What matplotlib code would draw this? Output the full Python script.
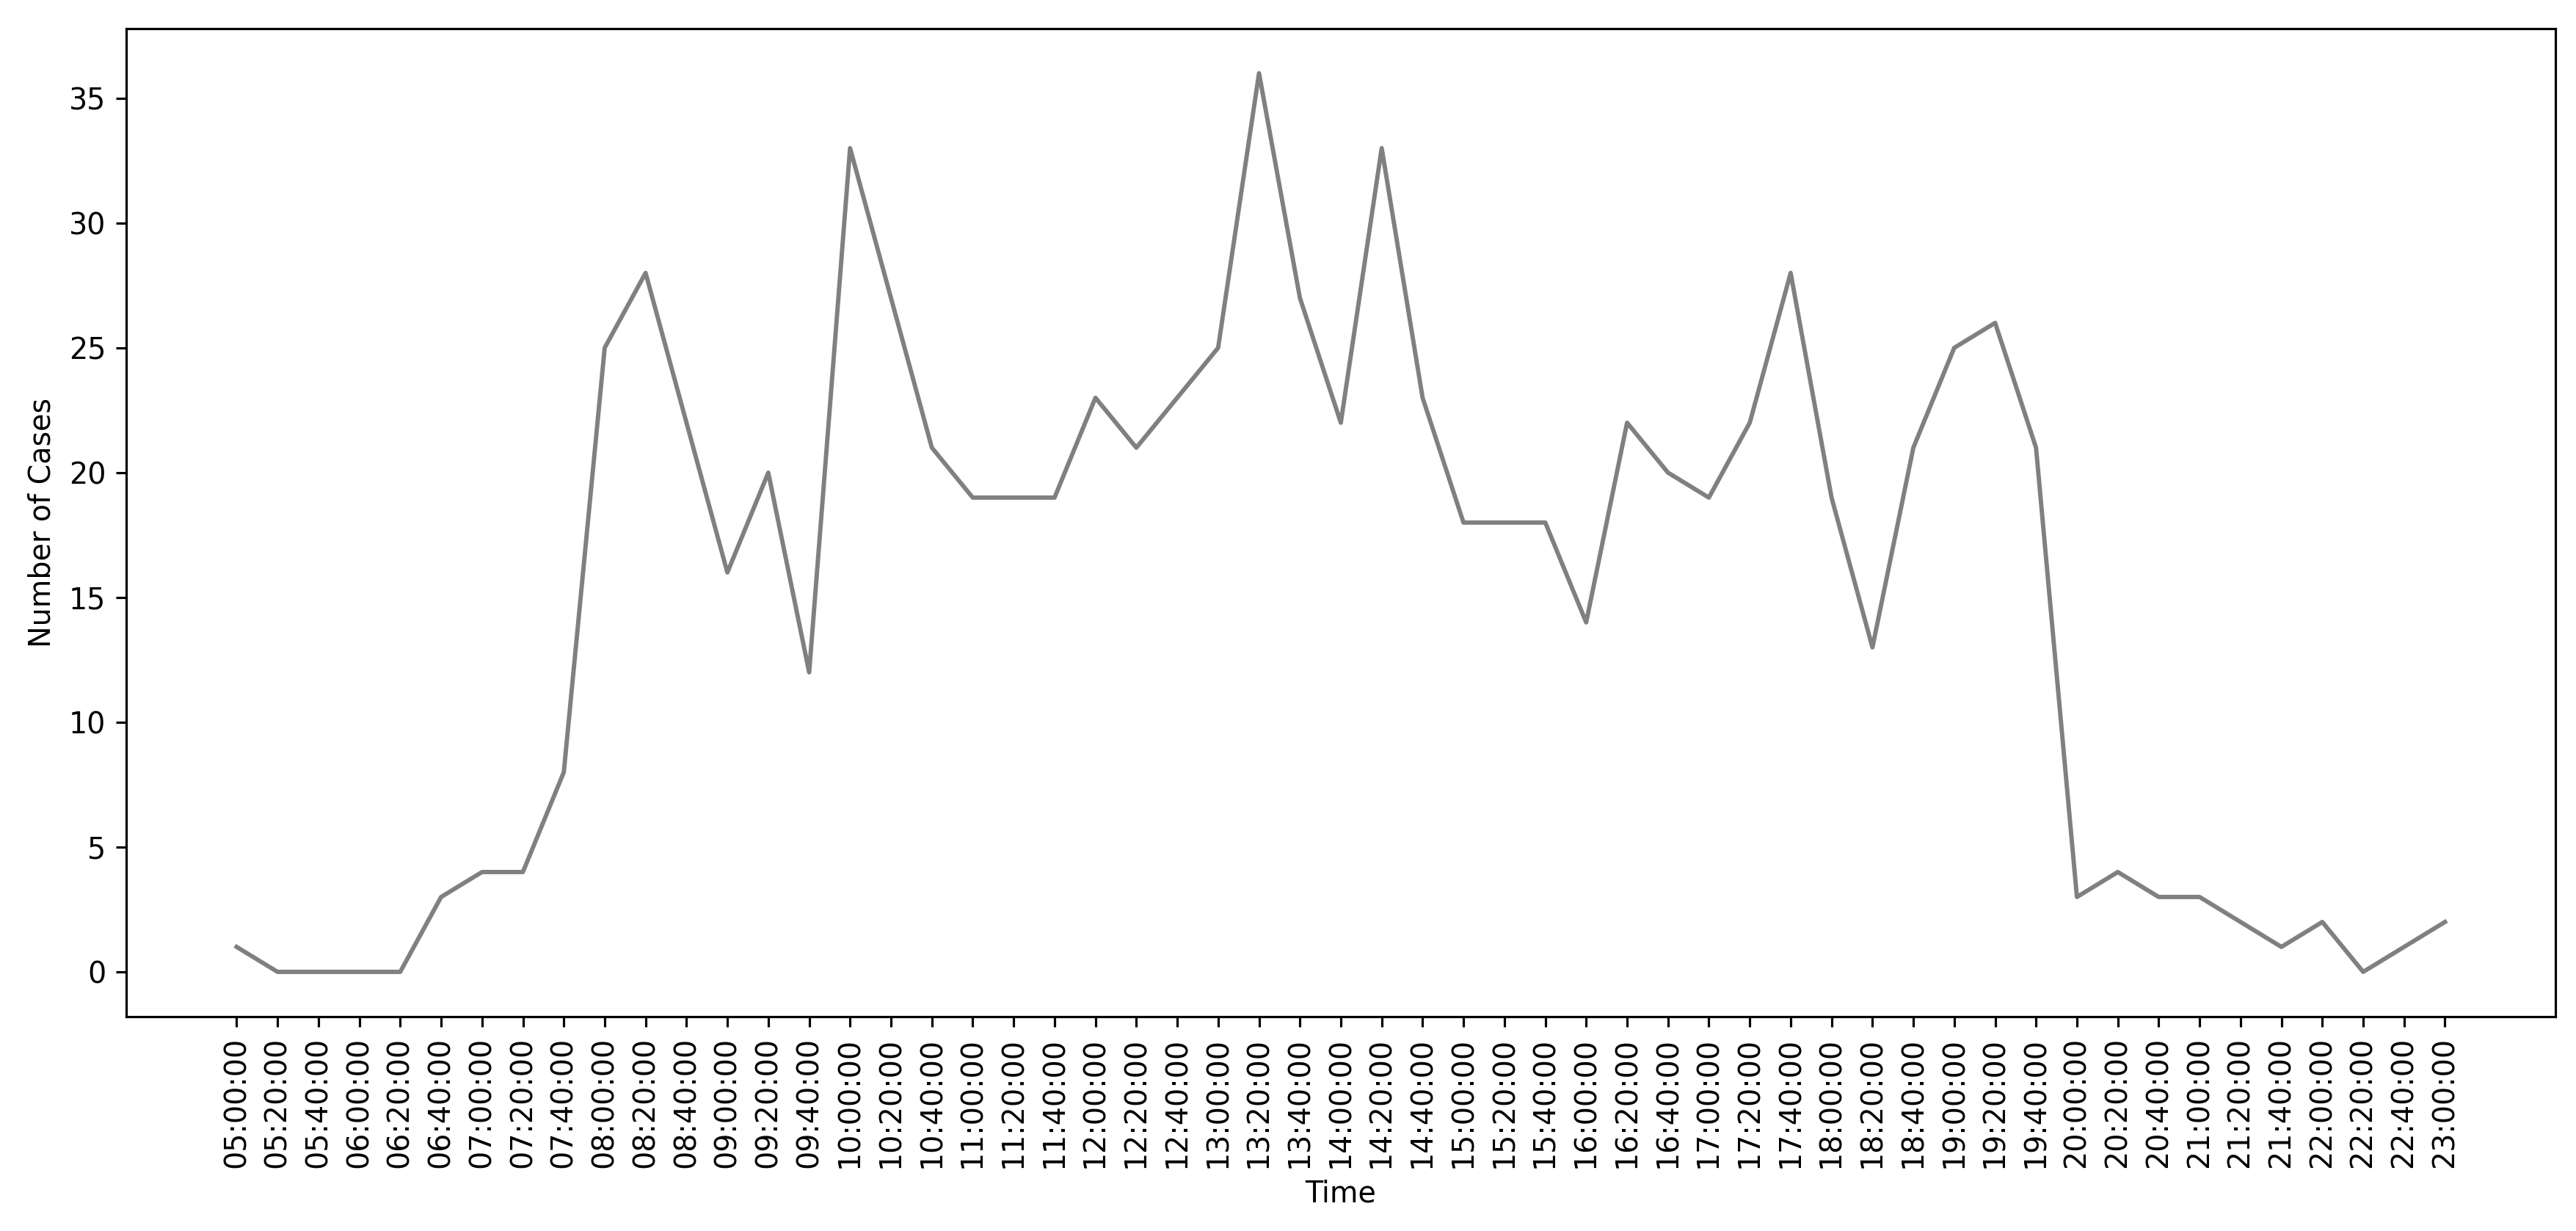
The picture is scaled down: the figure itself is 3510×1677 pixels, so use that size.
import matplotlib
matplotlib.use("Agg")
import matplotlib.pyplot as plt

# ===== данные =====
times = [
    "05:00:00", "05:20:00", "05:40:00", "06:00:00", "06:20:00", "06:40:00",
    "07:00:00", "07:20:00", "07:40:00", "08:00:00", "08:20:00", "08:40:00",
    "09:00:00", "09:20:00", "09:40:00", "10:00:00", "10:20:00", "10:40:00",
    "11:00:00", "11:20:00", "11:40:00", "12:00:00", "12:20:00", "12:40:00",
    "13:00:00", "13:20:00", "13:40:00", "14:00:00", "14:20:00", "14:40:00",
    "15:00:00", "15:20:00", "15:40:00", "16:00:00", "16:20:00", "16:40:00",
    "17:00:00", "17:20:00", "17:40:00", "18:00:00", "18:20:00", "18:40:00",
    "19:00:00", "19:20:00", "19:40:00", "20:00:00", "20:20:00", "20:40:00",
    "21:00:00", "21:20:00", "21:40:00", "22:00:00", "22:20:00", "22:40:00",
    "23:00:00",
]
cases = [
    1, 0, 0, 0, 0, 3,
    4, 4, 8, 25, 28, 22,
    16, 20, 12, 33, 27, 21,
    19, 19, 19, 23, 21, 23,
    25, 36, 27, 22, 33, 23,
    18, 18, 18, 14, 22, 20,
    19, 22, 28, 19, 13, 21,
    25, 26, 21, 3, 4, 3,
    3, 2, 1, 2, 0, 1,
    2,
]

DPI = 285
fig = plt.figure(figsize=(3510 / DPI, 1677 / DPI), dpi=DPI)
ax = fig.add_axes([0.049, 0.174, 0.943, 0.803])

ax.plot(times, cases, color="gray")
ax.set_xlabel("Time")
ax.set_ylabel("Number of Cases")
ax.tick_params(axis="x", labelrotation=90)

fig.savefig("out.png", dpi=DPI)
